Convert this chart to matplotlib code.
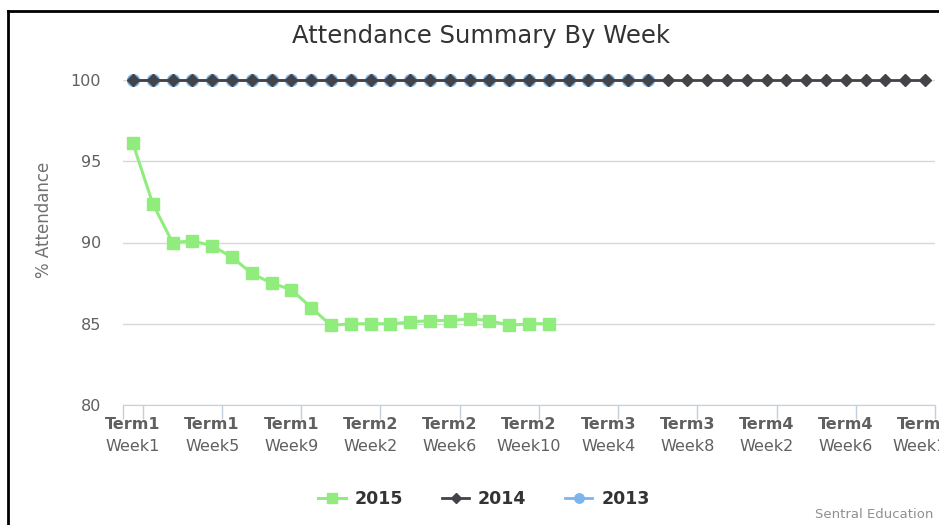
import matplotlib.pyplot as plt
import numpy as np

# weeks per term in the school year
term_weeks = [11, 10, 10, 10]
weeks = []
for t, n in enumerate(term_weeks):
    for w in range(n):
        weeks = weeks + ["Term%d\nWeek%d" % (t + 1, w + 1)]

att_2015 = [96.1, 92.4, 90.0, 90.1, 89.8, 89.1, 88.1, 87.5, 87.1, 86.0, 84.9,
            85.0, 85.0, 85.0, 85.1, 85.2, 85.2, 85.3, 85.2, 84.9, 85.0, 85.0]
att_2014 = [100.0] * 41
att_2013 = [100.0] * 27

c15 = "#90ED7D"
c14 = "#434348"
c13 = "#7CB5EC"
label_col = "#606060"

fig = plt.figure(figsize=(9.39, 5.25), dpi=100)
ax = fig.add_axes([123 / 939, 1 - 405 / 525, 812 / 939, 325 / 525])

x15 = np.arange(len(att_2015))
x14 = np.arange(len(att_2014))
x13 = np.arange(len(att_2013))

ax.plot(x13, att_2013, color=c13, lw=2, marker="o", ms=8.5, zorder=3,
        label="2013", clip_on=False)
ax.plot(x14, att_2014, color=c14, lw=2, marker="D", ms=6.5, zorder=4,
        label="2014", clip_on=False)
ax.plot(x15, att_2015, color=c15, lw=2.2, marker="s", ms=8.5, zorder=5,
        label="2015", clip_on=False)

ax.set_xlim(-0.5, len(weeks) - 0.5)
ax.set_ylim(80, 100)
ax.set_yticks([80, 85, 90, 95, 100])
ax.grid(axis="y", color="#D8D8D8", lw=1)
ax.set_axisbelow(True)
for s in ["top", "right", "left"]:
    ax.spines[s].set_visible(False)
ax.spines["bottom"].set_color("#C0D0E0")
ax.tick_params(axis="y", length=0, labelsize=11.5, labelcolor=label_col, pad=16)

# category ticks between weeks, labels every 4th week
ax.set_xticks([-0.5] + [i + 0.5 for i in range(0, len(weeks), 4)])
ax.set_xticklabels([])
ax.tick_params(axis="x", length=10, color="#C0D0E0", width=1)
trans = ax.get_xaxis_transform()
for i in range(0, len(weeks), 4):
    term, wk = weeks[i].split("\n")
    ax.text(i, -0.06, term, transform=trans, ha="center", va="center",
            fontsize=11.5, fontweight="bold", color=label_col, clip_on=False)
    ax.text(i, -0.128, wk, transform=trans, ha="center", va="center",
            fontsize=11.5, color=label_col, clip_on=False)

ax.set_ylabel("% Attendance", fontsize=12, color="#707070", labelpad=8,
              family=["Liberation Sans Narrow", "DejaVu Sans"])
ax.yaxis.set_label_coords(-0.086, 0.57)

fig.text(481 / 939, 1 - 36 / 525, "Attendance Summary By Week", ha="center",
         va="center", fontsize=17.5, color="#333333")

h, l = ax.get_legend_handles_labels()
order = [2, 1, 0]
fig.legend([h[i] for i in order], [l[i] for i in order], loc="center",
           bbox_to_anchor=(484 / 939, 1 - 499 / 525), ncol=3, frameon=False,
           prop={"weight": "bold", "size": 12.5}, labelcolor="#333333",
           markerscale=0.8, handlelength=1.6, handletextpad=0.5,
           columnspacing=2.2)

fig.text(933 / 939, 1 - 514 / 525, "Sentral Education", ha="right",
         va="center", fontsize=9.5, color="#909090")

# black frame at left and top
fig.add_artist(plt.Line2D([8 / 939, 8 / 939], [0, 1 - 11 / 525], color="black",
                          lw=2, transform=fig.transFigure))
fig.add_artist(plt.Line2D([8 / 939, 1], [1 - 11 / 525, 1 - 11 / 525],
                          color="black", lw=2, transform=fig.transFigure))

fig.savefig("out.png", dpi=100)
